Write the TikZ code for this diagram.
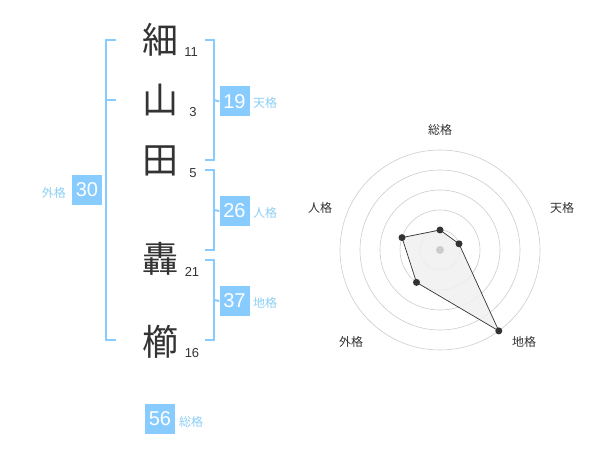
\documentclass[tikz,border=0pt]{standalone}
\usepackage{fontspec}
\setmainfont{Liberation Sans}
\newfontfamily\jp{Noto Sans CJK JP}
\definecolor{brblue}{HTML}{88CCFF}
\definecolor{lblblue}{HTML}{8CCFF5}
\definecolor{txt}{HTML}{333333}
\definecolor{ring}{HTML}{CCCCCC}
\definecolor{polyfill}{HTML}{F0F0F0}
\begin{document}
\begin{tikzpicture}[x=1pt,y=-1pt,
  kanji/.style={font=\jp\fontsize{36}{36}\selectfont, text=txt, inner sep=0pt},
  stroke/.style={font=\fontsize{13}{13}\selectfont, text=txt, inner sep=0pt},
  numbox/.style={fill=brblue, text=white, minimum width=30pt, minimum height=30pt, inner sep=0pt, font=\fontsize{20}{20}\selectfont},
  kaku/.style={font=\jp\fontsize{12}{12}\selectfont, text=lblblue, inner sep=0pt},
  brk/.style={draw=brblue, line width=2pt},
  rlab/.style={font=\jp\fontsize{12}{12}\selectfont, text=txt, inner sep=0pt},
  ringc/.style={draw=ring, line width=0.6pt},
  dot/.style={circle, fill=txt, inner sep=0pt, minimum size=7pt}
]
\useasboundingbox (0,0) rectangle (600,470);
% characters
\node[kanji] (c1) at (160,40) {細};
\node[kanji] (c2) at (160,100) {山};
\node[kanji] (c3) at (160,161) {田};
\node[kanji] (c4) at (160,259) {轟};
\node[kanji] (c5) at (160,342) {櫛};
\node[stroke] (s1) at (191,52) {11};
\node[stroke] (s2) at (193,112) {3};
\node[stroke] (s3) at (193,173) {5};
\node[stroke] (s4) at (192,272) {21};
\node[stroke] (s5) at (192,353) {16};
% boxes
\node[numbox] (ten) at (234.5,101.5) {19};
\node[kaku, anchor=west] (tenl) at (253,103) {天格};
\node[numbox] (jin) at (234.5,211) {26};
\node[kaku, anchor=west] (jinl) at (253,213) {人格};
\node[numbox] (chi) at (234.5,301) {37};
\node[kaku, anchor=west] (chil) at (253,303) {地格};
\node[numbox] (gai) at (87,190) {30};
\node[kaku, anchor=east] (gail) at (66,193) {外格};
\node[numbox] (sou) at (160,419) {56};
\node[kaku, anchor=west] (soul) at (179,422) {総格};
% brackets
\coordinate (L1) at (116,40); \coordinate (L2) at (116,340);
\draw[brk] (L1) -- (106,40) -- (106,340) -- (L2);
\draw[brk] (106,100) -- (116,100);
\draw[brk] (205,40) -- (214,40) -- (214,160) -- (205,160);
\draw[brk] (214,100) -- (ten.west);
\draw[brk] (205,170) -- (214,170) -- (214,250) -- (205,250);
\draw[brk] (214,210) -- (jin.west);
\draw[brk] (205,260) -- (214,260) -- (214,340) -- (205,340);
\draw[brk] (214,300) -- (chi.west);
% radar
\coordinate (O) at (440,250);
\foreach \r in {20,40,60,80,100} \draw[ringc] (O) circle[radius=\r];
\node[rlab] (lsou) at (440,130) {総格};
\node[rlab] (lten) at (562,208) {天格};
\node[rlab] (ljin) at (320,208) {人格};
\node[rlab] (lgai) at (351,342) {外格};
\node[rlab] (lchi) at (524,342) {地格};
\path (O) ++(0,-20) coordinate (p1);
\path (O) ++(19.0,-6.2) coordinate (p2);
\path (O) ++(58.8,80.9) coordinate (p3);
\path (O) ++(-23.5,32.4) coordinate (p4);
\path (O) ++(-38.0,-12.4) coordinate (p5);
\fill[polyfill, fill opacity=0.85] (p1) -- (p2) -- (p3) -- (p4) -- (p5) -- cycle;
\fill[ring] (O) circle[radius=4];
\draw[txt, line width=0.7pt] (p1) -- (p2) -- (p3) -- (p4) -- (p5) -- cycle;
\foreach \p in {p1,p2,p3,p4,p5} \node[dot] at (\p) {};
\end{tikzpicture}
\end{document}
